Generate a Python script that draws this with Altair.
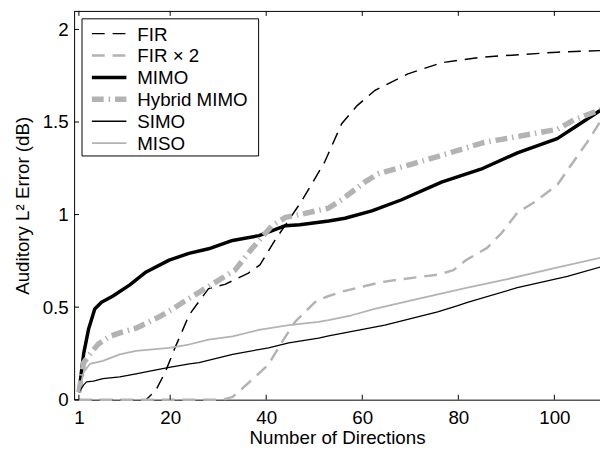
import altair as alt
import pandas as pd

# ---------------- data ----------------
names = ["FIR", "FIR × 2", "MIMO", "Hybrid MIMO", "SIMO", "MISO"]

fir_x = [1, 5, 10, 15, 17, 19, 21, 24, 28, 31.4, 36.3, 38.7, 41.8, 47.3, 52.1, 55.7, 59, 62.6, 69.5, 76.5, 84.7, 100.6, 110]
fir_y = [0, 0, 0, 0, 0.05, 0.15, 0.28, 0.46, 0.60, 0.623, 0.684, 0.728, 0.86, 1.07, 1.28, 1.49, 1.59, 1.67, 1.76, 1.82, 1.85, 1.877, 1.886]

fir2_x = [1, 10, 20, 31, 33, 34.3, 38, 40.5, 43, 46, 50.5, 53, 56, 59.2, 64, 68, 75.7, 79, 81.6, 86, 89, 92.3, 96, 100.6, 103, 106.8, 110]
fir2_y = [0, 0, 0, 0, 0.015, 0.044, 0.13, 0.19, 0.30, 0.42, 0.535, 0.56, 0.585, 0.605, 0.635, 0.65, 0.675, 0.70, 0.754, 0.82, 0.90, 1.01, 1.07, 1.16, 1.25, 1.39, 1.52]

mimo_x = [1, 2, 3, 4.3, 5.7, 8.1, 11.6, 15, 19.8, 23.9, 28, 33, 38.5, 41, 44, 47, 53, 56.4, 62, 68.2, 76.5, 84.7, 92.3, 100.6, 104.7, 110]
mimo_y = [0.04, 0.25, 0.38, 0.49, 0.526, 0.56, 0.62, 0.69, 0.754, 0.79, 0.815, 0.86, 0.886, 0.91, 0.94, 0.945, 0.965, 0.98, 1.02, 1.08, 1.175, 1.245, 1.333, 1.41, 1.48, 1.57]

hyb_x = [1, 2, 3.3, 5, 7.4, 10, 12.9, 17.7, 20.5, 23.2, 28.7, 33.5, 37, 41.2, 44, 47, 53, 55.7, 60.5, 63.3, 70, 76.5, 85.4, 92, 100.6, 104, 110]
hyb_y = [0.04, 0.2, 0.245, 0.3, 0.342, 0.365, 0.386, 0.447, 0.49, 0.535, 0.623, 0.70, 0.815, 0.94, 0.985, 1.0, 1.035, 1.08, 1.175, 1.22, 1.27, 1.32, 1.39, 1.42, 1.46, 1.51, 1.57]

simo_x = [1, 2, 2.6, 4, 6, 9.5, 12.9, 16, 19.8, 24, 26, 33, 40.5, 44.7, 50.9, 53, 64.7, 75.7, 79.9, 81.9, 92.3, 102.7, 110]
simo_y = [0.04, 0.08, 0.096, 0.10, 0.114, 0.123, 0.14, 0.155, 0.175, 0.193, 0.2, 0.245, 0.28, 0.307, 0.333, 0.345, 0.403, 0.474, 0.508, 0.526, 0.605, 0.666, 0.72]

miso_x = [1, 2, 3.3, 6, 9.5, 12.9, 19.8, 23.9, 28, 33, 38.5, 44.7, 50.9, 53, 57.8, 62.6, 71.6, 81.9, 90, 100, 110.2]
miso_y = [0.04, 0.15, 0.193, 0.21, 0.245, 0.263, 0.28, 0.298, 0.324, 0.342, 0.377, 0.403, 0.42, 0.43, 0.456, 0.49, 0.544, 0.605, 0.65, 0.71, 0.77]

x_ticks = [1, 20, 40, 60, 80, 100]
y_ticks = [0, 0.5, 1, 1.5, 2]

# ---------------- styles ----------------
GRAY = "#b3b3b3"
colors = ["black", GRAY, "black", GRAY, "black", GRAY]
dashes = [[13, 8], [13, 8], None, [12, 5, 1.5, 5], None, None]
widths = [1.5, 2.5, 3.5, 5.5, 1.3, 1.8]
FONT = "Liberation Sans"
FS = 19
W, H = 533, 394

series_x = [fir_x, fir2_x, mimo_x, hyb_x, simo_x, miso_x]
series_y = [fir_y, fir2_y, mimo_y, hyb_y, simo_y, miso_y]

xscale = alt.Scale(domain=[0, 109.5], nice=False, zero=False)
yscale = alt.Scale(domain=[0, 2.1], nice=False, zero=False)

layers = []
for i, (name, xs, ys) in enumerate(zip(names, series_x, series_y)):
    d = pd.DataFrame({"x": xs, "y": ys, "series": name})
    props = dict(color=colors[i], strokeWidth=widths[i], strokeCap="butt", strokeJoin="round")
    if dashes[i] is not None:
        props["strokeDash"] = dashes[i]
    if i == 0:
        enc = dict(
            x=alt.X("x:Q", scale=xscale,
                    axis=alt.Axis(values=x_ticks, format="d", title="Number of Directions",
                                  labelPadding=9, titleY=44, titleBaseline="alphabetic")),
            y=alt.Y("y:Q", scale=yscale,
                    axis=alt.Axis(values=y_ticks, format=".1~f", title="Auditory L² Error (dB)",
                                  labelPadding=6, titleX=-52, titleBaseline="middle")),
        )
    else:
        enc = dict(x=alt.X("x:Q"), y=alt.Y("y:Q"))
    layers.append(alt.Chart(d).mark_line(**props).encode(**enc))

xt = pd.DataFrame({"x": x_ticks})
yt = pd.DataFrame({"y": y_ticks})
layers.append(alt.Chart(xt).mark_rule(color="black", strokeWidth=1).encode(
    x="x:Q", y=alt.value(H), y2=alt.value(H - 5)))
layers.append(alt.Chart(xt).mark_rule(color="black", strokeWidth=1).encode(
    x="x:Q", y=alt.value(0), y2=alt.value(5)))
layers.append(alt.Chart(yt).mark_rule(color="black", strokeWidth=1).encode(
    y="y:Q", x=alt.value(0), x2=alt.value(5)))
one = pd.DataFrame({"a": [0]})
layers.append(alt.Chart(one).mark_rule(color="black", strokeWidth=1).encode(
    x=alt.value(0), x2=alt.value(W), y=alt.value(0.5)))

# ---------------- legend (drawn inside the plot, top-left) ----------------
LX0, LX1, LY0, LY1 = 8, 187, 8, 147
ROW0, PITCH = 23, 22.2
layers.append(alt.Chart(one).mark_rect(fill="white", stroke="black", strokeWidth=1).encode(
    x=alt.value(LX0), x2=alt.value(LX1), y=alt.value(LY0), y2=alt.value(LY1)))
for i, name in enumerate(names):
    ry = ROW0 + i * PITCH
    props = dict(color=colors[i], strokeWidth=widths[i], strokeCap="butt")
    if dashes[i] is not None:
        props["strokeDash"] = dashes[i]
    layers.append(alt.Chart(one).mark_rule(**props).encode(
        x=alt.value(18), x2=alt.value(53), y=alt.value(ry)))
    layers.append(alt.Chart(one).mark_text(
        align="left", baseline="middle", font=FONT, fontSize=FS, color="black").encode(
        x=alt.value(64), y=alt.value(ry + 1), text=alt.value(name)))

chart = alt.layer(*layers).properties(
    width=W, height=H,
    padding={"left": 67, "top": 0, "right": 0, "bottom": 45},
    autosize=alt.AutoSizeParams(type="none"),
).configure_view(stroke=None).configure_axis(
    labelFont=FONT, labelFontSize=FS, labelColor="black",
    titleFont=FONT, titleFontSize=FS, titleColor="black", titleFontWeight="normal",
    domainColor="black", domainWidth=1, ticks=False, tickSize=0, grid=False,
)

chart.save("out.html", embed_options={"renderer": "svg", "actions": False})
